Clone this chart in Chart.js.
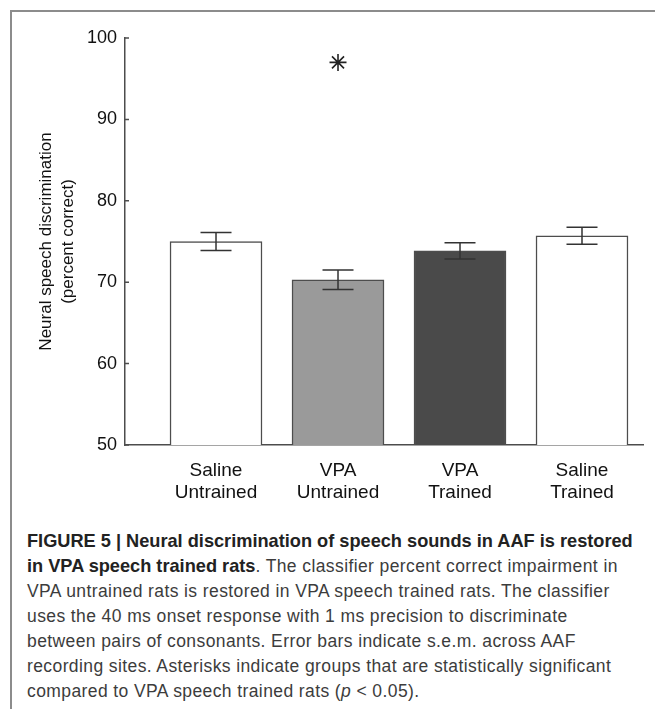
<!DOCTYPE html>
<html>
<head>
<meta charset="utf-8">
<script src="https://cdn.jsdelivr.net/npm/chart.js@4.4.0/dist/chart.umd.min.js"></script>
<style>
body { margin: 0; background: #fff; width: 655px; height: 709px; overflow: hidden; position: relative; font-family: 'Liberation Sans', Arial, sans-serif; }
#frame { position: absolute; left: 10px; top: 10px; right: 0; bottom: 0; border-top: 2px solid #8c8c8c; border-left: 2px solid #8c8c8c; }
#box { position: absolute; left: 0; top: 0; width: 655px; height: 510px; }
#caption { position: absolute; left: 27px; top: 529px; line-height: 25px; font-size: 17.5px; letter-spacing: 0.4px; color: #3c3c3c; white-space: nowrap; }
#caption b { font-size: 18.2px; letter-spacing: 0; color: #222; }
</style>
</head>
<body>
<div id="frame"></div>
<div id="box"><canvas id="chart"></canvas></div>
<div id="caption">
<div><b>FIGURE 5 | Neural discrimination of speech sounds in AAF is restored</b></div>
<div><b>in VPA speech trained rats</b>. The classifier percent correct impairment in</div>
<div>VPA untrained rats is restored in VPA speech trained rats. The classifier</div>
<div>uses the 40 ms onset response with 1 ms precision to discriminate</div>
<div>between pairs of consonants. Error bars indicate s.e.m. across AAF</div>
<div>recording sites. Asterisks indicate groups that are statistically significant</div>
<div>compared to VPA speech trained rats (<i>p</i> &lt; 0.05).</div>
</div>
<script>
// groups on the x axis (two line labels)
var groups = [['Saline', 'Untrained'], ['VPA', 'Untrained'], ['VPA', 'Trained'], ['Saline', 'Trained']];
var positions = [1, 2, 3, 4];
var means = [75.0, 70.3, 73.85, 75.7]; // percent correct
var sems = [1.1, 1.2, 1.0, 1.05];
var sigX = [2]; // asterisk
var sigY = [97];
var yTitle = ['Neural speech discrimination', '(percent correct)'];

var AXIS = '#4d4d4d';

var errorBars = {
    id: 'errorBars',
    afterDatasetsDraw: function(chart) {
        var xs = chart.scales.x,
            ys = chart.scales.y,
            c = chart.ctx;
        c.save();
        c.strokeStyle = '#333';
        c.lineWidth = 1.5;
        c.beginPath();
        for (var i = 0; i < means.length; i++) {
            var x = xs.getPixelForValue(positions[i]);
            var top = ys.getPixelForValue(means[i] + sems[i]),
                bot = ys.getPixelForValue(means[i] - sems[i]);
            c.moveTo(x, top); c.lineTo(x, bot);
            c.moveTo(x - 15.5, top); c.lineTo(x + 15.5, top);
            c.moveTo(x - 15.5, bot); c.lineTo(x + 15.5, bot);
        }
        c.stroke();
        // small inward ticks on the y axis
        c.strokeStyle = AXIS;
        c.beginPath();
        ys.ticks.forEach(function(t) {
            var y = ys.getPixelForValue(t.value);
            c.moveTo(ys.right, y);
            c.lineTo(ys.right + 4, y);
        });
        c.stroke();
        c.restore();
    }
};

var ctx = document.getElementById('chart').getContext('2d');
var chart = new Chart(ctx, {
    type: 'bar',
    data: {
        datasets: [{
            type: 'bar',
            data: positions.map(function(p, i) { return { x: p, y: means[i] }; }),
            backgroundColor: ['#ffffff', '#9a9a9a', '#4a4a4a', '#ffffff'],
            borderColor: AXIS,
            borderWidth: 1.5,
            barThickness: 92,
            base: 50
        }, {
            type: 'scatter',
            data: sigX.map(function(p, i) { return { x: p, y: sigY[i] }; }),
            pointStyle: 'star',
            pointRadius: 8.5,
            borderColor: '#222',
            backgroundColor: '#222',
            borderWidth: 1.6
        }]
    },
    options: {
        responsive: true,
        maintainAspectRatio: false,
        animation: false,
        layout: { padding: { left: 0, top: 38, right: 12, bottom: 0 } },
        plugins: { legend: { display: false }, tooltip: { enabled: false } },
        scales: {
            x: {
                type: 'linear',
                offset: false,
                min: 0.254,
                max: 4.5,
                grid: { display: false, drawTicks: false },
                border: { display: true, color: AXIS, width: 1.5 },
                afterBuildTicks: function(s) {
                    s.ticks = positions.map(function(p) { return { value: p }; });
                },
                ticks: {
                    autoSkip: false,
                    maxRotation: 0,
                    padding: 15,
                    color: '#111',
                    font: { family: "'Liberation Sans', Arial, sans-serif", size: 19, lineHeight: 1.15 },
                    callback: function(v) { return groups[positions.indexOf(v)]; }
                },
                afterFit: function(s) { s.height = 65; }
            },
            y: {
                min: 50,
                max: 100,
                grid: { display: false, drawTicks: false },
                border: { display: true, color: AXIS, width: 1.5 },
                ticks: {
                    stepSize: 10,
                    padding: 8,
                    color: '#111',
                    font: { family: "'Liberation Sans', Arial, sans-serif", size: 18 }
                },
                title: {
                    display: true,
                    text: yTitle,
                    color: '#111',
                    font: { family: "'Liberation Sans', Arial, sans-serif", size: 17, lineHeight: 1.3 },
                    padding: { top: 35, bottom: 0 }
                },
                afterFit: function(s) { s.width = 125; }
            }
        }
    },
    plugins: [errorBars]
});
</script>
</body>
</html>
